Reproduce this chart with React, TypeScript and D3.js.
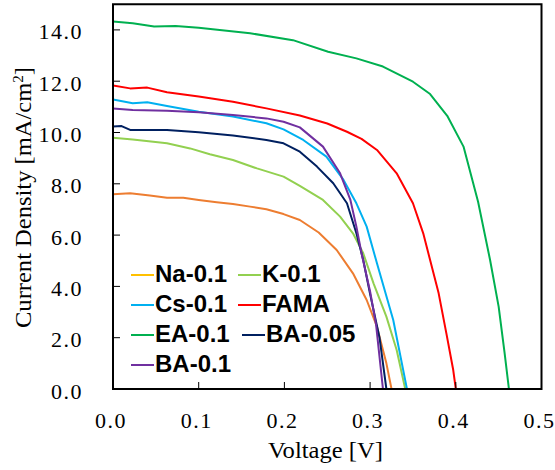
import React from "react";
import * as d3 from "d3";

const xTicks = [0, 0.1, 0.2, 0.3, 0.4, 0.5];
const yTicks = [0, 2, 4, 6, 8, 10, 12, 14];

const naV = [0, 0.02, 0.043, 0.063, 0.082, 0.1, 0.121, 0.14, 0.16, 0.179, 0.199, 0.218, 0.24, 0.261, 0.28, 0.296, 0.308, 0.319, 0.325];
const naJ = [7.59, 7.63, 7.54, 7.46, 7.46, 7.37, 7.28, 7.21, 7.11, 7.01, 6.82, 6.59, 6.1, 5.42, 4.51, 3.47, 2.43, 1.0, 0];

const kV = [0, 0.023, 0.063, 0.09, 0.113, 0.14, 0.168, 0.199, 0.218, 0.245, 0.265, 0.28, 0.292, 0.304, 0.319, 0.331, 0.341];
const kJ = [9.8, 9.73, 9.58, 9.38, 9.15, 8.93, 8.6, 8.28, 7.92, 7.37, 6.72, 6.07, 5.29, 4.12, 2.82, 1.52, 0];

const csV = [0, 0.023, 0.04, 0.063, 0.1, 0.14, 0.179, 0.199, 0.222, 0.249, 0.269, 0.284, 0.296, 0.308, 0.327, 0.343];
const csJ = [11.29, 11.14, 11.18, 11.03, 10.81, 10.62, 10.36, 10.12, 9.71, 9.06, 8.15, 7.24, 6.33, 4.9, 2.69, 0];

const famaV = [0, 0.02, 0.04, 0.063, 0.1, 0.14, 0.179, 0.218, 0.25, 0.273, 0.29, 0.308, 0.331, 0.35, 0.362, 0.38, 0.389, 0.397, 0.4];
const famaJ = [11.83, 11.72, 11.75, 11.57, 11.4, 11.2, 10.94, 10.66, 10.35, 10.03, 9.75, 9.32, 8.41, 7.24, 6.07, 3.73, 2.17, 0.74, 0];

const eaV = [0, 0.023, 0.048, 0.073, 0.1, 0.16, 0.21, 0.251, 0.284, 0.315, 0.35, 0.37, 0.39, 0.409, 0.426, 0.44, 0.45, 0.457, 0.462];
const eaJ = [14.33, 14.26, 14.13, 14.15, 14.08, 13.87, 13.6, 13.15, 12.89, 12.57, 11.98, 11.5, 10.65, 9.45, 7.3, 5.03, 3.21, 1.39, 0];

const ba005V = [0, 0.01, 0.02, 0.063, 0.1, 0.14, 0.179, 0.199, 0.218, 0.238, 0.257, 0.273, 0.284, 0.292, 0.3, 0.311, 0.319];
const ba005J = [10.23, 10.25, 10.1, 10.1, 10.01, 9.88, 9.71, 9.58, 9.25, 8.67, 8.02, 7.24, 6.07, 5.03, 3.7, 2.0, 0];

const ba01V = [0, 0.023, 0.063, 0.1, 0.14, 0.179, 0.199, 0.218, 0.245, 0.265, 0.277, 0.284, 0.29, 0.3, 0.307, 0.315];
const ba01J = [10.94, 10.88, 10.85, 10.79, 10.68, 10.55, 10.42, 10.2, 9.45, 8.41, 7.37, 6.33, 5.29, 3.8, 2.5, 0];

const seriesNames = ["Na-0.1", "K-0.1", "Cs-0.1", "FAMA", "EA-0.1", "BA-0.05", "BA-0.1"];
const seriesV = [naV, kV, csV, famaV, eaV, ba005V, ba01V];
const seriesJ = [naJ, kJ, csJ, famaJ, eaJ, ba005J, ba01J];
const curveColors = ["#ED7D31", "#92D050", "#00B0F0", "#FF0000", "#00B050", "#002060", "#7030A0"];
const legendColors = ["#FFC000", "#92D050", "#00B0F0", "#FF0000", "#00B050", "#002060", "#7030A0"];

const W = 555, H = 470;
const L = 113, R = 541.5, T = 4.25, B = 389;

export default function App() {
  const x = d3.scaleLinear().domain([0, 0.5]).range([L, R]);
  const y = d3.scaleLinear().domain([0, 15]).range([B, T]);
  const line = d3.line<[number, number]>().x(d => x(d[0])).y(d => y(d[1]));
  const serif = "'Liberation Serif', 'Times New Roman', serif";
  const sans = "'Liberation Sans', Arial, sans-serif";

  const legendPos = [
    { lx: 131, row: 0 }, { lx: 238, row: 0 },
    { lx: 131, row: 1 }, { lx: 238, row: 1 },
    { lx: 131, row: 2 }, { lx: 242, row: 2 },
    { lx: 131, row: 3 },
  ];

  return (
    <svg width={W} height={H} style={{ position: "fixed", left: 0, top: 0, background: "#fff" }}>
      <defs>
        <clipPath id="plot"><rect x={L} y={T} width={R - L} height={B - T} /></clipPath>
      </defs>
      <rect x={0} y={0} width={W} height={H} fill="#fff" />
      <g clipPath="url(#plot)">
        {seriesNames.map((n, i) => (
          <path key={n} d={line(seriesV[i].map((v, k) => [v, seriesJ[i][k]] as [number, number])) || ""}
            fill="none" stroke={curveColors[i]} strokeWidth={2} strokeLinejoin="round" />
        ))}
      </g>
      {yTicks.map(t => (
        <g key={"y" + t}>
          <line x1={L} x2={L + 7} y1={y(t)} y2={y(t)} stroke="#000" strokeWidth={1} />
          <text x={83} y={y(t) + 9.5} textAnchor="end" fontFamily={serif} fontSize={22} letterSpacing={1.5} fill="#000">{t.toFixed(1)}</text>
        </g>
      ))}
      {xTicks.map(t => (
        <g key={"x" + t}>
          {t > 0 && t < 0.5 && <line x1={x(t)} x2={x(t)} y1={B} y2={B - 7} stroke="#000" strokeWidth={1} />}
          <text x={x(t) - 2} y={428} textAnchor="middle" fontFamily={serif} fontSize={22} letterSpacing={1.5} fill="#000">{t.toFixed(1)}</text>
        </g>
      ))}
      <rect x={L} y={T} width={R - L} height={B - T} fill="none" stroke="#000" strokeWidth={2} />
      {seriesNames.map((n, i) => {
        const p = legendPos[i];
        const by = 282 + p.row * 30;
        return (
          <g key={"lg" + n}>
            <line x1={p.lx} x2={p.lx + 23} y1={by - 7} y2={by - 7} stroke={legendColors[i]} strokeWidth={2} />
            <text x={p.lx + 24} y={by} fontFamily={sans} fontWeight="bold" fontSize={24} fill="#000">{n}</text>
          </g>
        );
      })}
      <text x={268} y={458} textLength={115} lengthAdjust="spacingAndGlyphs" fontFamily={serif} fontSize={23} fill="#000">Voltage [V]</text>
      <text transform={`translate(31,328) rotate(-90)`} textLength={261} lengthAdjust="spacingAndGlyphs" fontFamily={serif} fontSize={23} fill="#000">
        Current Density [mA/cm<tspan dy={-8} fontSize={14}>2</tspan><tspan dy={8}>]</tspan>
      </text>
    </svg>
  );
}
